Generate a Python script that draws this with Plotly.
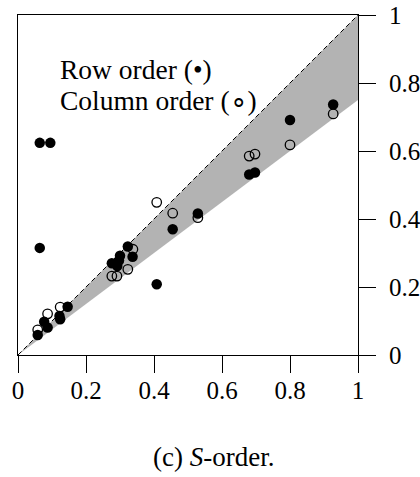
import plotly.graph_objects as go

# Row order (filled) points
row_x = [0.064, 0.095, 0.064, 0.058, 0.077, 0.087, 0.124, 0.122, 0.146,
         0.276, 0.292, 0.297, 0.300, 0.323, 0.337, 0.408, 0.455, 0.529,
         0.680, 0.697, 0.800, 0.927]
row_y = [0.624, 0.624, 0.315, 0.059, 0.098, 0.081, 0.105, 0.115, 0.142,
         0.270, 0.262, 0.278, 0.292, 0.319, 0.289, 0.208, 0.370, 0.416,
         0.531, 0.537, 0.691, 0.737]

# Column order (open) points
col_x = [0.058, 0.087, 0.124, 0.276, 0.291, 0.323, 0.338, 0.408, 0.455,
         0.529, 0.680, 0.697, 0.800, 0.927]
col_y = [0.074, 0.121, 0.141, 0.232, 0.232, 0.252, 0.311, 0.449, 0.417,
         0.404, 0.585, 0.591, 0.618, 0.709]

# Shaded band between y = x and y = 0.75 x
band_x = [0, 1]
band_upper = [0, 1]
band_lower = [0, 0.75]

tick_vals = [0, 0.2, 0.4, 0.6, 0.8, 1]

FONT = "Liberation Serif"

fig = go.Figure()
fig.add_trace(go.Scatter(x=band_x, y=band_lower, mode="lines",
                         line=dict(color="#b3b3b3", width=0),
                         hoverinfo="skip", showlegend=False))
fig.add_trace(go.Scatter(x=band_x, y=band_upper, mode="lines",
                         fill="tonexty", fillcolor="#b3b3b3",
                         line=dict(color="black", width=1, dash="5px,3px"),
                         hoverinfo="skip", showlegend=False))
fig.add_trace(go.Scatter(x=col_x, y=col_y, mode="markers",
                         marker=dict(symbol="circle-open", size=9.5,
                                     color="black", line=dict(width=1.3)),
                         showlegend=False))
fig.add_trace(go.Scatter(x=row_x, y=row_y, mode="markers",
                         marker=dict(symbol="circle", size=10.5, color="black",
                                     line=dict(width=0)),
                         showlegend=False))

axis_common = dict(range=[0, 1], tickvals=tick_vals, showgrid=False,
                   zeroline=False, showline=True, linecolor="black",
                   linewidth=1, mirror=True, ticks="outside", ticklen=17,
                   tickcolor="black", tickwidth=1, automargin=False,
                   tickfont=dict(family=FONT, size=25, color="black"))

fig.update_layout(
    width=420, height=477,
    margin=dict(l=18, r=62, t=15, b=122),
    paper_bgcolor="white", plot_bgcolor="white",
    font=dict(family=FONT, color="black"),
    xaxis=dict(**axis_common, ticklabelstandoff=-4),
    yaxis=dict(**axis_common, side="right", ticklabelstandoff=8),
    annotations=[
        dict(text="Row order (•)", x=0.118, y=0.841, xref="x", yref="y",
             xanchor="left", yanchor="middle", showarrow=False,
             font=dict(family=FONT, size=27.5, color="black")),
        dict(text="Column order (∘)", x=0.118, y=0.75, xref="x", yref="y",
             xanchor="left", yanchor="middle", showarrow=False,
             font=dict(family=FONT, size=27.5, color="black")),
        dict(text="(c) <i>S</i>-order.", x=0.576, y=-0.3, xref="paper",
             yref="paper", xanchor="center", yanchor="middle",
             showarrow=False,
             font=dict(family=FONT, size=27, color="black")),
    ],
)

fig.write_html("out.html",
               config={"displayModeBar": False},
               post_script="document.body.style.margin='0';"
                           "document.body.style.padding='0';")
